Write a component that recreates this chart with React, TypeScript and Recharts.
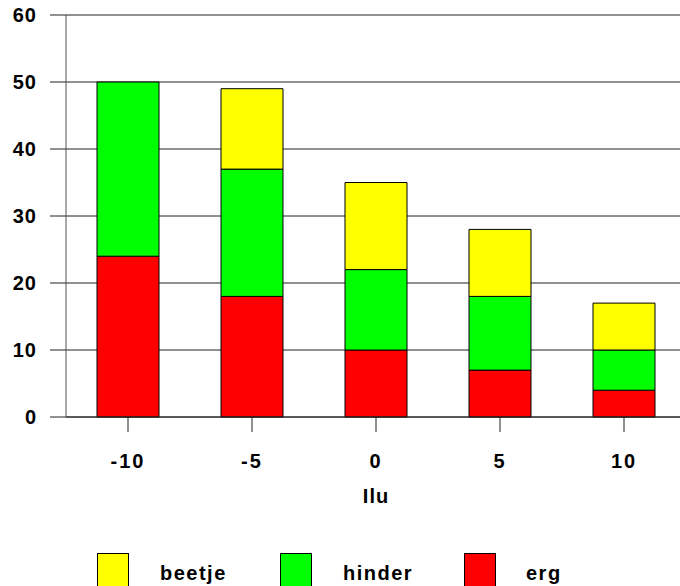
import React from 'react';
import { BarChart, Bar, XAxis, YAxis, CartesianGrid } from 'recharts';

// Ilu categories and stacked counts
const categories = ['-10', '-5', '0', '5', '10'];
const erg = [24, 18, 10, 7, 4];
const hinder = [26, 19, 12, 11, 6];
const beetje = [0, 12, 13, 10, 7];
const yTicks = [0, 10, 20, 30, 40, 50, 60];

const data = categories.map((c, i) => ({
  ilu: c,
  erg: erg[i],
  hinder: hinder[i],
  beetje: beetje[i],
}));

const FONT = 'Arial, "Liberation Sans", Helvetica, sans-serif';

const legendItems = [
  { name: 'beetje', color: '#ffff00', box: 97, text: 160 },
  { name: 'hinder', color: '#00ff00', box: 280, text: 343 },
  { name: 'erg', color: '#ff0000', box: 464, text: 526 },
];

export default function App() {
  return (
    <div
      style={{
        position: 'absolute',
        left: 0,
        top: 0,
        width: 680,
        height: 586,
        overflow: 'hidden',
        background: '#fff',
        fontFamily: FONT,
      }}
    >
      <BarChart
        width={686}
        height={586}
        data={data}
        margin={{ top: 15, right: 0, left: 0, bottom: 0 }}
        barSize={62}
      >
        <CartesianGrid vertical={false} stroke="#222" strokeOpacity={1} />
        <XAxis
          dataKey="ilu"
          height={169}
          stroke="#222"
          tickSize={15}
          tickMargin={22}
          tick={{ fontSize: 20, fontWeight: 700, fill: '#000', fontFamily: FONT, letterSpacing: 2 }}
          label={{
            value: 'Ilu',
            position: 'insideBottom',
            offset: 83,
            style: { fontSize: 20, fontWeight: 700, fill: '#000', fontFamily: FONT, letterSpacing: 1 },
          }}
        />
        <YAxis
          width={66}
          domain={[0, 60]}
          ticks={yTicks}
          stroke="#555"
          tickSize={16}
          tickMargin={13}
          tick={{ fontSize: 20, fontWeight: 700, fill: '#000', fontFamily: FONT, letterSpacing: 1 }}
          tickLine={{ stroke: '#222' }}
        />
        <Bar dataKey="erg" stackId="a" fill="#ff0000" stroke="#000" strokeWidth={1} isAnimationActive={false} />
        <Bar dataKey="hinder" stackId="a" fill="#00ff00" stroke="#000" strokeWidth={1} isAnimationActive={false} />
        <Bar dataKey="beetje" stackId="a" fill="#ffff00" stroke="#000" strokeWidth={1} isAnimationActive={false} />
      </BarChart>
      {legendItems.map((item) => (
        <React.Fragment key={item.name}>
          <div
            style={{
              position: 'absolute',
              left: item.box,
              top: 553,
              width: 30,
              height: 40,
              background: item.color,
              border: '1px solid #000',
            }}
          />
          <div
            style={{
              position: 'absolute',
              left: item.text,
              top: 561,
              fontSize: 20,
              fontWeight: 700,
              lineHeight: '24px',
              letterSpacing: 1.5,
              color: '#000',
            }}
          >
            {item.name}
          </div>
        </React.Fragment>
      ))}
    </div>
  );
}
